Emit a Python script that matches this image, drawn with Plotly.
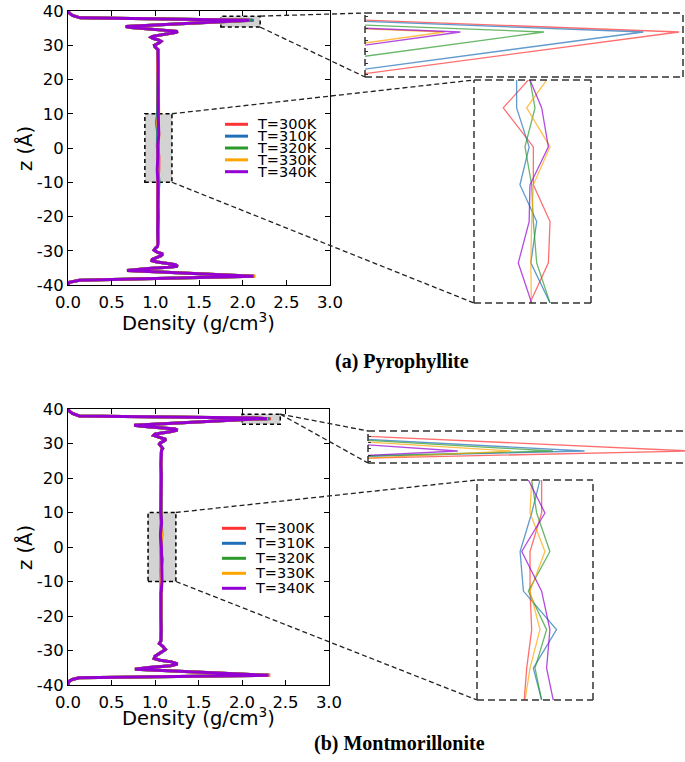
import plotly.graph_objects as go

# ---------------------------------------------------------------------------
# Water density profiles across the clay nanopore, five temperatures
# ---------------------------------------------------------------------------
TEMPS = ["T=300K", "T=310K", "T=320K", "T=330K", "T=340K"]
COLORS = ["#ff3333", "#1f70b8", "#2a9a2a", "#ffa500", "#9400d3"]

# ---- (a) Pyrophyllite ------------------------------------------------------
z_a_top_out = [40.0, 39.7, 39.4, 38.7, 38.0]
rho_a_top_out = [0.000, 0.004, 0.015, 0.05, 0.14]
z_a_top_peak = 37.3
rho_a_top_peak = [2.129, 2.120, 2.095, 2.070, 2.074]
z_a_top_in = [35.5, 35.2, 34.9, 34.6, 34.3, 34.05, 33.8, 33.4, 33.0, 32.6, 32.3,
              32.0, 31.6, 31.15, 30.8, 30.4, 30.0, 29.6, 29.2, 28.7, 28.0]
rho_a_top_in = [0.66, 0.72, 0.88, 1.07, 1.21, 1.256, 1.24, 1.15, 1.04, 0.97, 0.95,
                0.97, 1.03, 1.065, 1.05, 1.01, 0.99, 0.995, 1.015, 1.03, 1.03]
z_a_mid = [24.0, 20.5, 17.0, 13.5, 10.0, 7.5, 4.0, 0.6, -2.7, -6.4, -10.0,
           -13.5, -17.0, -20.5, -24.0]
rho_a_mid = [
    [1.0325, 1.0275, 1.0300, 1.0250, 1.0275, 1.0125, 1.0305, 1.0305, 1.0405, 1.0395, 1.0285, 1.0325, 1.0250, 1.0300, 1.0275],
    [1.0275, 1.0300, 1.0250, 1.0325, 1.0205, 1.0205, 1.0280, 1.0225, 1.0325, 1.0290, 1.0405, 1.0300, 1.0275, 1.0325, 1.0300],
    [1.0300, 1.0325, 1.0275, 1.0300, 1.0285, 1.0315, 1.0255, 1.0295, 1.0305, 1.0325, 1.0405, 1.0275, 1.0325, 1.0275, 1.0300],
    [1.0250, 1.0300, 1.0325, 1.0275, 1.0385, 1.0265, 1.0405, 1.0305, 1.0295, 1.0290, 1.0290, 1.0300, 1.0300, 1.0250, 1.0325],
    [1.0300, 1.0275, 1.0300, 1.0300, 1.0285, 1.0355, 1.0395, 1.0285, 1.0280, 1.0215, 1.0295, 1.0275, 1.0300, 1.0300, 1.0275],
]
z_a_bot_in = [-28.0, -28.7, -29.3, -29.8, -30.4, -30.95, -31.5, -32.0, -32.5, -32.9,
              -33.3, -33.7, -34.1, -34.5, -34.85, -35.2, -35.5, -35.8]
rho_a_bot_in = [1.03, 1.025, 1.00, 0.985, 1.02, 1.085, 1.06, 1.00, 0.965, 0.96,
                1.02, 1.14, 1.23, 1.256, 1.15, 0.92, 0.75, 0.676]
z_a_bot_peak = -37.46
rho_a_bot_peak = [2.145, 2.138, 2.135, 2.140, 2.125]
z_a_bot_out = [-38.6, -39.2, -39.6, -40.0]
rho_a_bot_out = [0.13, 0.015, 0.004, 0.000]

# ---- (b) Montmorillonite ---------------------------------------------------
z_b_top_out = [40.0, 39.7, 39.4, 38.7, 38.0, 37.35]
rho_b_top_out = [0.000, 0.004, 0.015, 0.05, 0.13, 2.20]
z_b_top_peak = 37.2
rho_b_top_peak = [2.331, 2.311, 2.305, 2.297, 2.287]
z_b_top_in = [37.1, 35.3, 35.0, 34.6, 34.2, 33.9, 33.5, 33.0, 32.7, 32.35, 31.9,
              31.5, 31.15, 30.7, 30.2, 29.8, 29.2, 28.6, 28.0, 27.2]
rho_b_top_in = [2.15, 0.76, 0.85, 1.08, 1.23, 1.26, 1.19, 1.06, 1.00, 0.985, 1.04,
                1.11, 1.127, 1.10, 1.06, 1.05, 1.07, 1.088, 1.075, 1.072]
z_b_mid = [24.0, 20.5, 17.0, 13.5, 10.0, 7.0, 3.5, -0.1, -3.6, -7.1, -10.0,
           -13.5, -17.0, -20.5, -24.0]
rho_b_mid = [
    [1.0700, 1.0725, 1.0675, 1.0710, 1.0740, 1.0740, 1.0670, 1.0670, 1.0680, 1.0650, 1.0635, 1.0700, 1.0725, 1.0690, 1.0710],
    [1.0725, 1.0690, 1.0710, 1.0700, 1.0730, 1.0680, 1.0610, 1.0630, 1.0830, 1.0690, 1.0740, 1.0710, 1.0690, 1.0725, 1.0700],
    [1.0690, 1.0710, 1.0725, 1.0680, 1.0680, 1.0710, 1.0790, 1.0660, 1.0770, 1.0700, 1.0740, 1.0680, 1.0710, 1.0700, 1.0725],
    [1.0710, 1.0700, 1.0690, 1.0725, 1.0680, 1.0670, 1.0760, 1.0670, 1.0730, 1.0670, 1.0640, 1.0725, 1.0700, 1.0710, 1.0680],
    [1.0680, 1.0725, 1.0700, 1.0690, 1.0660, 1.0760, 1.0620, 1.0740, 1.0790, 1.0770, 1.0810, 1.0690, 1.0725, 1.0680, 1.0710],
]
z_b_bot_in = [-27.2, -28.0, -28.8, -29.7, -30.4, -31.1, -31.7, -32.3, -32.8, -33.3,
              -33.9, -34.4, -34.9, -35.45]
rho_b_bot_in = [1.068, 1.05, 1.09, 1.12, 1.08, 1.03, 1.00, 0.99, 1.06, 1.19,
                1.26, 1.18, 0.93, 0.77]
z_b_bot_peak = -37.2
rho_b_bot_peak = [2.325, 2.318, 2.315, 2.320, 2.305]
z_b_bot_out = [-37.9, -38.4, -38.9, -39.4, -40.0]
rho_b_bot_out = [0.13, 0.05, 0.015, 0.003, 0.000]

X_TICKS = [0.0, 0.5, 1.0, 1.5, 2.0, 2.5, 3.0]
X_TICKTEXT = ["0.0", "0.5", "1.0", "1.5", "2.0", "2.5", "3.0"]
Y_TICKS = [-40, -30, -20, -10, 0, 10, 20, 30, 40]
Y_TICKTEXT = ["-40", "-30", "-20", "-10", "0", "10", "20", "30", "40"]


def assemble(top_out, top_peak, top_in, mid, bot_in, bot_peak, bot_out):
    return list(top_out) + [top_peak] + list(top_in) + list(mid) + list(bot_in) + [bot_peak] + list(bot_out)


z_a = assemble(z_a_top_out, z_a_top_peak, z_a_top_in, z_a_mid, z_a_bot_in, z_a_bot_peak, z_a_bot_out)
z_b = assemble(z_b_top_out, z_b_top_peak, z_b_top_in, z_b_mid, z_b_bot_in, z_b_bot_peak, z_b_bot_out)
rho_a = [assemble(rho_a_top_out, rho_a_top_peak[i], rho_a_top_in, rho_a_mid[i],
                  rho_a_bot_in, rho_a_bot_peak[i], rho_a_bot_out) for i in range(len(TEMPS))]
rho_b = [assemble(rho_b_top_out, rho_b_top_peak[i], rho_b_top_in, rho_b_mid[i],
                  rho_b_bot_in, rho_b_bot_peak[i], rho_b_bot_out) for i in range(len(TEMPS))]

# ---------------------------------------------------------------------------
# Layout geometry (pixel positions on a 685 x 762 page)
# ---------------------------------------------------------------------------
W, H = 685, 762


def fx(p):
    return p / W


def fy(p):
    return 1 - p / H


FONT = "DejaVu Sans"

MAIN_A = dict(x=[fx(68), fx(330)], y=[fy(285), fy(11)])
MAIN_B = dict(x=[fx(68), fx(329)], y=[fy(685), fy(409)])
MAIN_XR, MAIN_YR = [0, 3], [-40, 40]

# zoom windows: domain, density range, z range
INSETS = {
    "a_top": dict(x=[fx(365), fx(683)], y=[fy(77), fy(13)], xr=[2.05, 2.13], yr=[37.1953, 37.3442],
                  ticks=dict(dtick=0.027, tick0=37.2272)),
    "a_mid": dict(x=[fx(474), fx(591)], y=[fy(303), fy(80)], xr=[0.995, 1.065], yr=[-10, 10], ticks=None),
    "b_top": dict(x=[fx(368), 1.0], y=[fy(463), fy(431)], xr=[2.27, 2.33], yr=[37.143, 37.295],
                  ticks=dict(dtick=0.03, tick0=37.15)),
    "b_mid": dict(x=[fx(477), fx(593)], y=[fy(700), fy(480)], xr=[1.035, 1.105], yr=[-10, 10], ticks=None),
}

# highlighted regions on the full profiles (density range, z range)
BOX_A_TOP = ([1.75, 2.2], [35.3, 38.5])
BOX_A_MID = ([0.88, 1.19], [-10, 10])
BOX_B_TOP = ([2.0, 2.44], [35.6, 38.5])
BOX_B_MID = ([0.92, 1.24], [-10, 10])

fig = go.Figure()

# full profiles
for xa, ya, zz, rr in [("x", "y", z_a, rho_a), ("x2", "y2", z_b, rho_b)]:
    for i, name in enumerate(TEMPS):
        fig.add_trace(go.Scatter(x=rr[i], y=zz, mode="lines", name=name,
                                 line=dict(color=COLORS[i], width=3),
                                 xaxis=xa, yaxis=ya, showlegend=False, hoverinfo="skip"))

# zoomed views
inset_axes = {"a_top": ("x3", "y3", z_a, rho_a), "a_mid": ("x4", "y4", z_a, rho_a),
              "b_top": ("x5", "y5", z_b, rho_b), "b_mid": ("x6", "y6", z_b, rho_b)}
for key, (xa, ya, zz, rr) in inset_axes.items():
    for i, name in enumerate(TEMPS):
        fig.add_trace(go.Scatter(x=rr[i], y=zz, mode="lines", name=name,
                                 line=dict(color=COLORS[i], width=1.3), opacity=0.7,
                                 xaxis=xa, yaxis=ya, showlegend=False, hoverinfo="skip"))

tickfont = dict(family=FONT, size=16.5, color="black")


def main_x(domain, anchor):
    return dict(domain=domain, range=MAIN_XR, anchor=anchor, showgrid=False, zeroline=False,
                showline=True, linecolor="black", linewidth=1, mirror="ticks", automargin=False,
                ticks="inside", ticklen=5, tickcolor="black", tickvals=X_TICKS,
                ticktext=X_TICKTEXT, tickfont=tickfont, ticklabelstandoff=2)


def main_y(domain, anchor):
    return dict(domain=domain, range=MAIN_YR, anchor=anchor, showgrid=False, zeroline=False,
                showline=True, linecolor="black", linewidth=1, mirror="ticks", automargin=False,
                ticks="inside", ticklen=5, tickcolor="black", tickvals=Y_TICKS,
                ticktext=Y_TICKTEXT, tickfont=tickfont)


def inset_x(spec, anchor):
    return dict(domain=spec["x"], range=spec["xr"], anchor=anchor, showgrid=False, zeroline=False,
                showline=False, showticklabels=False, ticks="", automargin=False)


def inset_y(spec, anchor):
    d = dict(domain=spec["y"], range=spec["yr"], anchor=anchor, showgrid=False, zeroline=False,
             showline=False, showticklabels=False, ticks="", automargin=False)
    if spec["ticks"]:
        d.update(ticks="inside", ticklen=3, tickcolor="#333333", tickwidth=1.2,
                 tickmode="linear", **spec["ticks"])
    return d


fig.update_layout(
    template="none",
    width=W, height=H, autosize=False,
    margin=dict(l=0, r=0, t=0, b=0, pad=0, autoexpand=False),
    paper_bgcolor="white", plot_bgcolor="white",
    font=dict(family=FONT, color="black"),
    xaxis=main_x(MAIN_A["x"], "y"), yaxis=main_y(MAIN_A["y"], "x"),
    xaxis2=main_x(MAIN_B["x"], "y2"), yaxis2=main_y(MAIN_B["y"], "x2"),
    xaxis3=inset_x(INSETS["a_top"], "y3"), yaxis3=inset_y(INSETS["a_top"], "x3"),
    xaxis4=inset_x(INSETS["a_mid"], "y4"), yaxis4=inset_y(INSETS["a_mid"], "x4"),
    xaxis5=inset_x(INSETS["b_top"], "y5"), yaxis5=inset_y(INSETS["b_top"], "x5"),
    xaxis6=inset_x(INSETS["b_mid"], "y6"), yaxis6=inset_y(INSETS["b_mid"], "x6"),
    showlegend=False,
)

shapes = []
annotations = []


def to_paper(dom, xv, yv):
    px = dom["x"][0] + (xv - MAIN_XR[0]) / (MAIN_XR[1] - MAIN_XR[0]) * (dom["x"][1] - dom["x"][0])
    py = dom["y"][0] + (yv - MAIN_YR[0]) / (MAIN_YR[1] - MAIN_YR[0]) * (dom["y"][1] - dom["y"][0])
    return px, py


def grey_box(box, xref, yref):
    (x0, x1), (y0, y1) = box
    shapes.append(dict(type="rect", xref=xref, yref=yref, x0=x0, x1=x1, y0=y0, y1=y1,
                       fillcolor="#d3d3d3", line=dict(color="black", width=1.5, dash="4px,3px"),
                       layer="below"))


def connector(p_from, p_to):
    shapes.append(dict(type="line", xref="paper", yref="paper",
                       x0=p_from[0], y0=p_from[1], x1=p_to[0], y1=p_to[1],
                       line=dict(color="#222222", width=1.3, dash="5px,3px")))


FRAME_LINE = dict(color="#333333", width=1.5, dash="7px,4px")


def inset_frame(xa, ya, sides=("left", "right", "top", "bottom")):
    ends = {"left": (0, 0, 0, 1), "right": (1, 1, 0, 1), "top": (0, 1, 1, 1), "bottom": (0, 1, 0, 0)}
    for s in sides:
        x0, x1, y0, y1 = ends[s]
        shapes.append(dict(type="line", xref=f"{xa} domain", yref=f"{ya} domain",
                           x0=x0, x1=x1, y0=y0, y1=y1, line=FRAME_LINE))


grey_box(BOX_A_TOP, "x", "y")
grey_box(BOX_A_MID, "x", "y")
grey_box(BOX_B_TOP, "x2", "y2")
grey_box(BOX_B_MID, "x2", "y2")

inset_frame("x3", "y3")
inset_frame("x4", "y4")
inset_frame("x5", "y5", sides=("left", "top", "bottom"))
inset_frame("x6", "y6")

# dashed guide lines from the highlighted boxes to the zoomed views
ia, im = INSETS["a_top"], INSETS["a_mid"]
connector(to_paper(MAIN_A, BOX_A_TOP[0][1], BOX_A_TOP[1][1]), (ia["x"][0], ia["y"][1]))
connector(to_paper(MAIN_A, BOX_A_TOP[0][1], BOX_A_TOP[1][0]), (ia["x"][0], ia["y"][0]))
connector(to_paper(MAIN_A, BOX_A_MID[0][1], BOX_A_MID[1][1]), (im["x"][0], im["y"][1]))
connector(to_paper(MAIN_A, BOX_A_MID[0][1], BOX_A_MID[1][0]), (im["x"][0], im["y"][0]))
ib, jm = INSETS["b_top"], INSETS["b_mid"]
connector(to_paper(MAIN_B, BOX_B_TOP[0][1], BOX_B_TOP[1][1]), (ib["x"][0], ib["y"][1]))
connector(to_paper(MAIN_B, BOX_B_TOP[0][1], BOX_B_TOP[1][1]), (ib["x"][0], ib["y"][0]))
connector(to_paper(MAIN_B, BOX_B_MID[0][1], BOX_B_MID[1][1]), (jm["x"][0], jm["y"][1]))
connector(to_paper(MAIN_B, BOX_B_MID[0][1], BOX_B_MID[1][0]), (jm["x"][0], jm["y"][0]))


# legends
def legend(x_line0, x_line1, x_text, y_first, step):
    for i, name in enumerate(TEMPS):
        yy = fy(y_first + i * step)
        shapes.append(dict(type="line", xref="paper", yref="paper", x0=fx(x_line0), x1=fx(x_line1),
                           y0=yy, y1=yy, line=dict(color=COLORS[i], width=3)))
        annotations.append(dict(xref="paper", yref="paper", x=fx(x_text), y=yy, text=name,
                                showarrow=False, xanchor="left", yanchor="middle",
                                font=dict(family=FONT, size=14.5, color="black")))


legend(225, 248, 255, 124.3, 11.85)
legend(222, 246, 253, 528.3, 15.0)

title_font = dict(family=FONT, size=19.5, color="black")
for ytitle_px, xtitle_px in [(148, 322), (547, 717)]:
    annotations.append(dict(xref="paper", yref="paper", x=fx(198), y=fy(xtitle_px),
                            text="Density (g/cm<sup>3</sup>)", showarrow=False,
                            xanchor="center", yanchor="middle", font=title_font))
    annotations.append(dict(xref="paper", yref="paper", x=fx(25), y=fy(ytitle_px),
                            text="z (Å)", showarrow=False, textangle=-90,
                            xanchor="center", yanchor="middle", font=title_font))

cap_font = dict(family="Liberation Serif", size=20, color="black")
annotations.append(dict(xref="paper", yref="paper", x=fx(402), y=fy(361), text="<b>(a) Pyrophyllite</b>",
                        showarrow=False, xanchor="center", yanchor="middle", font=cap_font))
annotations.append(dict(xref="paper", yref="paper", x=fx(400), y=fy(743), text="<b>(b) Montmorillonite</b>",
                        showarrow=False, xanchor="center", yanchor="middle", font=cap_font))

fig.update_layout(shapes=shapes, annotations=annotations)
fig.write_html("out.html")
